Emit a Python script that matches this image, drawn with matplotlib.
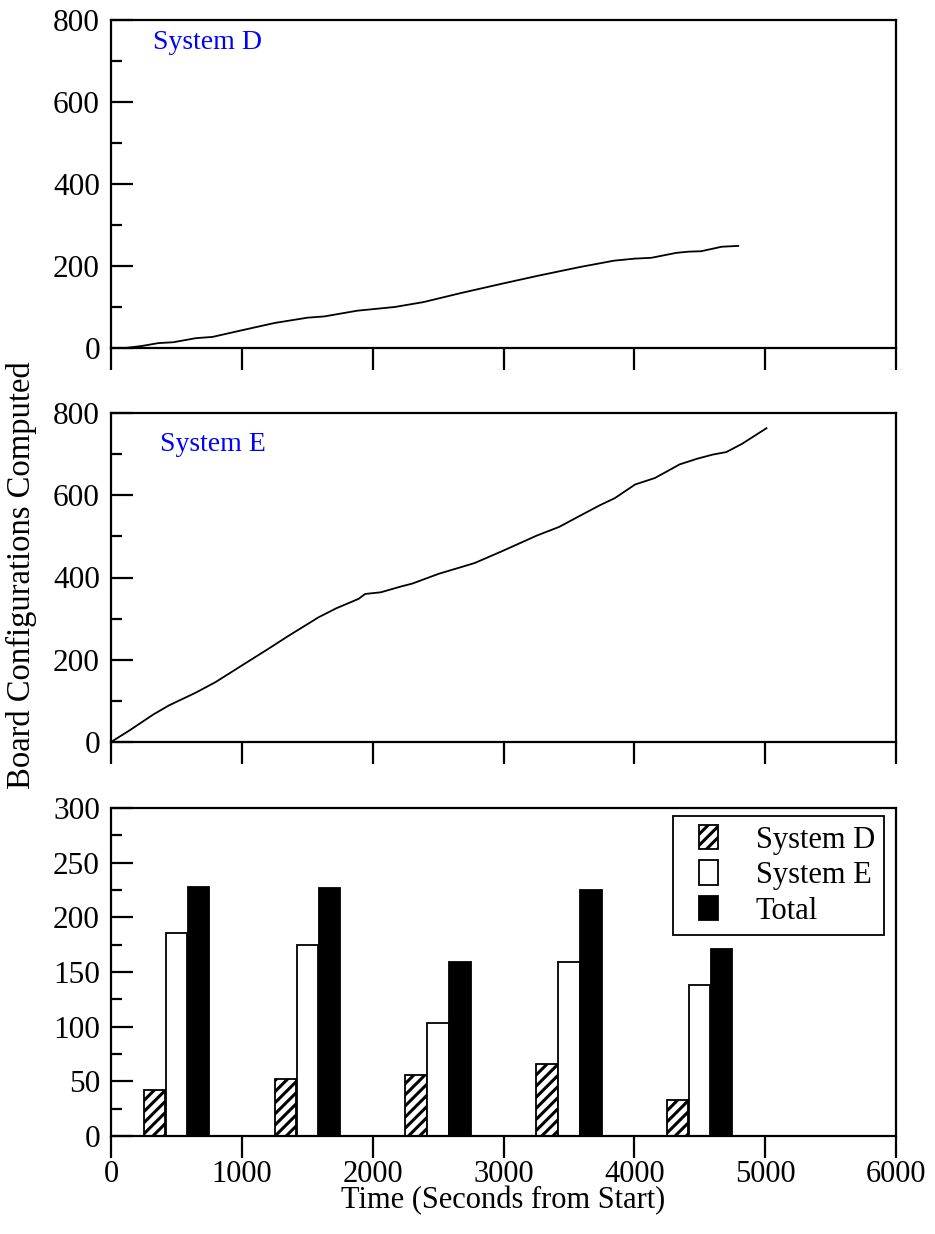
import matplotlib
matplotlib.use("Agg")
import matplotlib.pyplot as plt
from matplotlib.ticker import MultipleLocator
from matplotlib.legend_handler import HandlerPatch
from matplotlib.patches import Rectangle
import numpy as np

plt.rcParams['font.family'] = ['Liberation Serif', 'DejaVu Serif']
plt.rcParams['hatch.linewidth'] = 2.2

# System D cumulative curve
d_time = [0, 111, 237, 364, 475, 649, 775, 997, 1250, 1503, 1630, 1883, 2168,
          2389, 2674, 2991, 3275, 3592, 3845, 4003, 4130, 4320, 4415, 4510,
          4668, 4794]
d_count = [0, 0, 5, 12, 14, 24, 27, 43, 61, 74, 77, 91, 100, 112, 134, 157,
           177, 198, 213, 218, 220, 232, 235, 236, 247, 249]

# System E cumulative curve
e_time = [0, 136, 324, 443, 648, 801, 1005, 1210, 1346, 1585, 1721, 1892,
          1943, 2062, 2215, 2301, 2505, 2778, 2982, 3255, 3425, 3596, 3732,
          3851, 4005, 4158, 4346, 4482, 4601, 4703, 4823, 5010]
e_count = [0, 27, 67, 89, 120, 146, 187, 228, 256, 303, 325, 348, 360, 364,
           378, 385, 409, 435, 463, 502, 523, 552, 575, 593, 626, 642, 675,
           689, 699, 705, 725, 763]

# per-interval bars
bar_centers = [500, 1500, 2500, 3500, 4500]
bar_d = [42, 52, 56, 66, 33]
bar_e = [186, 175, 103, 159, 138]
bar_total = [228, 227, 159, 225, 171]


def small_box(legend, orig_handle, xdescent, ydescent, width, height, fontsize):
    # square-ish marker placed inside a wider handle slot
    w = height * 0.85
    h = height * 1.05
    return Rectangle((-xdescent + width * 0.35, -ydescent + (height - h) / 2), w, h)


fig = plt.figure(figsize=(9.35, 12.34), dpi=100)
W, H = 935, 1234
left, right = 111, 896
boxes = [(20, 348), (413, 742), (808, 1136)]
axes = []
for top, bot in boxes:
    ax = fig.add_axes([left / W, (H - bot) / H, (right - left) / W, (bot - top) / H])
    axes.append(ax)

for ax in axes:
    for s in ax.spines.values():
        s.set_linewidth(1.6)
    ax.set_xlim(0, 6000)
    ax.xaxis.set_major_locator(MultipleLocator(1000))
    ax.tick_params(axis='x', direction='out', length=16, width=1.6, top=False,
                   labelsize=22, pad=1)
    ax.tick_params(axis='y', which='major', direction='in', length=16, width=1.6,
                   right=False, labelsize=22.5, pad=8)
    ax.tick_params(axis='y', which='minor', direction='in', length=8, width=1.6,
                   right=False)

ax1, ax2, ax3 = axes

ax1.plot(d_time, d_count, color='black', lw=1.3)
ax1.set_ylim(0, 800)
ax1.yaxis.set_major_locator(MultipleLocator(200))
ax1.yaxis.set_minor_locator(MultipleLocator(100))
ax1.tick_params(axis='x', labelbottom=False)
ax1.text(0.053, 0.93, 'System D', transform=ax1.transAxes, color='#0000ff',
         fontsize=20, va='center')

ax2.plot(e_time, e_count, color='black', lw=1.3)
ax2.set_ylim(0, 800)
ax2.yaxis.set_major_locator(MultipleLocator(200))
ax2.yaxis.set_minor_locator(MultipleLocator(100))
ax2.tick_params(axis='x', labelbottom=False)
ax2.text(0.063, 0.905, 'System E', transform=ax2.transAxes, color='#0000ff',
         fontsize=20, va='center')

bw = 163
off = 168
xs = np.array(bar_centers)
bd = ax3.bar(xs - off, bar_d, width=bw, facecolor='white', edgecolor='black',
             hatch='///', lw=1.3, label='System D')
be = ax3.bar(xs, bar_e, width=bw, facecolor='white', edgecolor='black',
             lw=1.3, label='System E')
bt = ax3.bar(xs + off, bar_total, width=bw, facecolor='black', edgecolor='black',
             lw=1.3, label='Total')
ax3.set_ylim(0, 300)
ax3.yaxis.set_major_locator(MultipleLocator(50))
ax3.yaxis.set_minor_locator(MultipleLocator(25))
ax3.set_xlabel('Time (Seconds from Start)', fontsize=22, labelpad=-2)
leg = ax3.legend([bd.patches[0], be.patches[0], bt.patches[0]],
                 ['System D', 'System E', 'Total'],
                 loc='upper right', bbox_to_anchor=(0.985, 0.975), fontsize=22,
                 fancybox=False, edgecolor='black', framealpha=1,
                 handlelength=1.5, handleheight=0.8, handletextpad=0.9,
                 borderpad=0.3, labelspacing=0.2, borderaxespad=0,
                 handler_map={Rectangle: HandlerPatch(patch_func=small_box)})
leg.get_frame().set_linewidth(1.3)

fig.text(0.023, 0.534, 'Board Configurations Computed', rotation=90,
         fontsize=23.5, ha='center', va='center')

fig.savefig('out.png', dpi=100)
